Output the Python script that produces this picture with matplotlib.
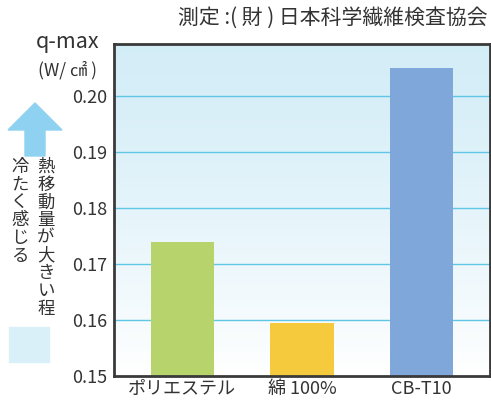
import numpy as np
import matplotlib.pyplot as plt
from matplotlib.patches import FancyArrow, Rectangle

plt.rcParams['font.family'] = ['Noto Sans CJK JP', 'DejaVu Sans']

categories = ["ポリエステル", "綿 100%", "CB-T10"]
qmax = [0.174, 0.1595, 0.205]
bar_colors = ["#b7d46c", "#f5ca3c", "#80a7d9"]
yticks = [0.15, 0.16, 0.17, 0.18, 0.19, 0.20]

fig = plt.figure(figsize=(4.91, 4.01), dpi=100)
ax = fig.add_axes([114/491, 1 - 376/401, 376/491, 332/401])

# 背景グラデーション（上が水色、下が白）
grad = np.linspace(0, 1, 256).reshape(-1, 1)
top = np.array([0.83, 0.93, 0.97])
bottom = np.array([1.0, 1.0, 1.0])
img = top + (bottom - top) * grad[..., None] ** 1.3
ax.imshow(img, extent=[0, 1, 0, 1], transform=ax.transAxes, aspect='auto', zorder=0)

ax.set_xlim(-0.57, 2.57)
ax.set_ylim(0.15, 0.2093)
for y in yticks[1:]:
    ax.axhline(y, color="#5fc6e6", lw=1.0, zorder=1)

ax.bar(range(len(categories)), [v - 0.15 for v in qmax], bottom=0.15,
       width=0.53, color=bar_colors, zorder=2)

ax.set_yticks(yticks)
ax.set_yticklabels([f"{v:.2f}" for v in yticks], fontsize=13, color="#333333")
ax.set_xticks(range(len(categories)))
ax.set_xticklabels(categories, fontsize=13, color="#333333")
ax.tick_params(length=0, pad=5)
ax.tick_params(axis="x", pad=3)
for s in ax.spines.values():
    s.set_linewidth(2)
    s.set_color("#3a3a3a")

fig.text(488/491, 1 - 18/401, "測定 :( 財 ) 日本科学繊維検査協会", ha="right", va="center",
         fontsize=15, color="#333333")
fig.text(68/491, 1 - 42/401, "q-max", ha="center", va="center", fontsize=15.5, color="#333333")
fig.text(68/491, 1 - 70/401, "(W/ ㎠ )", ha="center", va="center", fontsize=12.5, color="#333333")

# 左側の矢印と説明
fig.patches.append(FancyArrow(35/491, 1 - 156/401, 0, 53/401, width=20/491,
                              head_width=54/491, head_length=27/401, length_includes_head=True,
                              color="#8ed1f1", transform=fig.transFigure, figure=fig))
fig.patches.append(Rectangle((9/491, 1 - 362/401), 40/491, 35/401, color="#d9f0f8",
                             transform=fig.transFigure, figure=fig))
fig.text(46/491, 1 - 158/401, "\n".join("熱移動量が大きい程"), ha="center", va="top",
         fontsize=12.5, linespacing=0.98, color="#333333")
fig.text(20/491, 1 - 158/401, "\n".join("冷たく感じる"), ha="center", va="top",
         fontsize=12.5, linespacing=0.98, color="#333333")

plt.savefig("out.png", dpi=100)
